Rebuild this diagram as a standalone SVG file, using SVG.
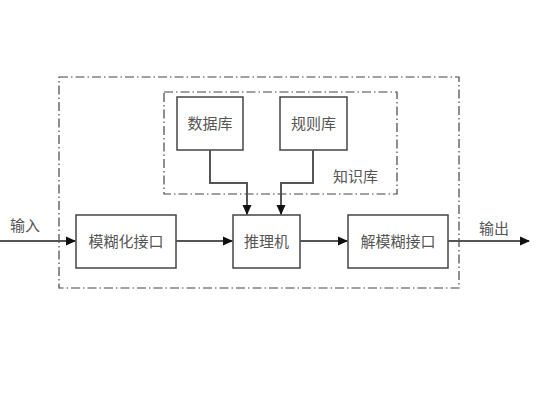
<svg xmlns="http://www.w3.org/2000/svg" width="536" height="409" viewBox="0 0 536 409">
<style>
.frame{fill:none;stroke:#444;stroke-width:1.2;stroke-dasharray:9 3 1.5 3}
.box{fill:#fff;stroke:#444;stroke-width:1.5}
.t{font-family:"Noto Sans CJK SC","Noto Sans CJK JP",sans-serif;font-size:15px;fill:#555}
.c{text-anchor:middle}
.ln{fill:none;stroke:#555;stroke-width:2}
</style>
<defs>
<marker id="ah" markerWidth="10" markerHeight="10" refX="9" refY="5" orient="auto" markerUnits="userSpaceOnUse">
<path d="M0,0.5 L10,5 L0,9.5 Z" fill="#111"/>
</marker>
</defs>
<rect width="536" height="409" fill="#fff"/>
<g id="system">
<rect class="frame" x="59" y="77" width="400" height="211"/>
</g>
<g id="knowledge-base">
<rect class="frame" x="164" y="92" width="233" height="102"/>
<text class="t" x="333" y="182">知识库</text>
</g>
<g id="database">
<rect class="box" x="177" y="97" width="66" height="53"/>
<text class="t c" x="210" y="129">数据库</text>
</g>
<g id="rulebase">
<rect class="box" x="280" y="97" width="67" height="53"/>
<text class="t c" x="313.5" y="129">规则库</text>
</g>
<g id="fuzzify">
<rect class="box" x="76" y="215" width="100" height="53"/>
<text class="t c" x="126" y="247">模糊化接口</text>
</g>
<g id="inference">
<rect class="box" x="233" y="215" width="67" height="53"/>
<text class="t c" x="266.5" y="247">推理机</text>
</g>
<g id="defuzzify">
<rect class="box" x="348" y="215" width="100" height="53"/>
<text class="t c" x="398" y="247">解模糊接口</text>
</g>
<g id="labels">
<text class="t" x="10" y="231">输入</text>
<text class="t" x="479" y="234">输出</text>
</g>
<g id="connectors">
<path class="ln" d="M0,241 H75" marker-end="url(#ah)"/>
<path class="ln" d="M176,241 H232" marker-end="url(#ah)"/>
<path class="ln" d="M300,241 H347" marker-end="url(#ah)"/>
<path class="ln" d="M448,241 H529" marker-end="url(#ah)"/>
<path class="ln" d="M210,150 V183 H247 V214" marker-end="url(#ah)"/>
<path class="ln" d="M313,150 V183 H281 V214" marker-end="url(#ah)"/>
</g>
</svg>
